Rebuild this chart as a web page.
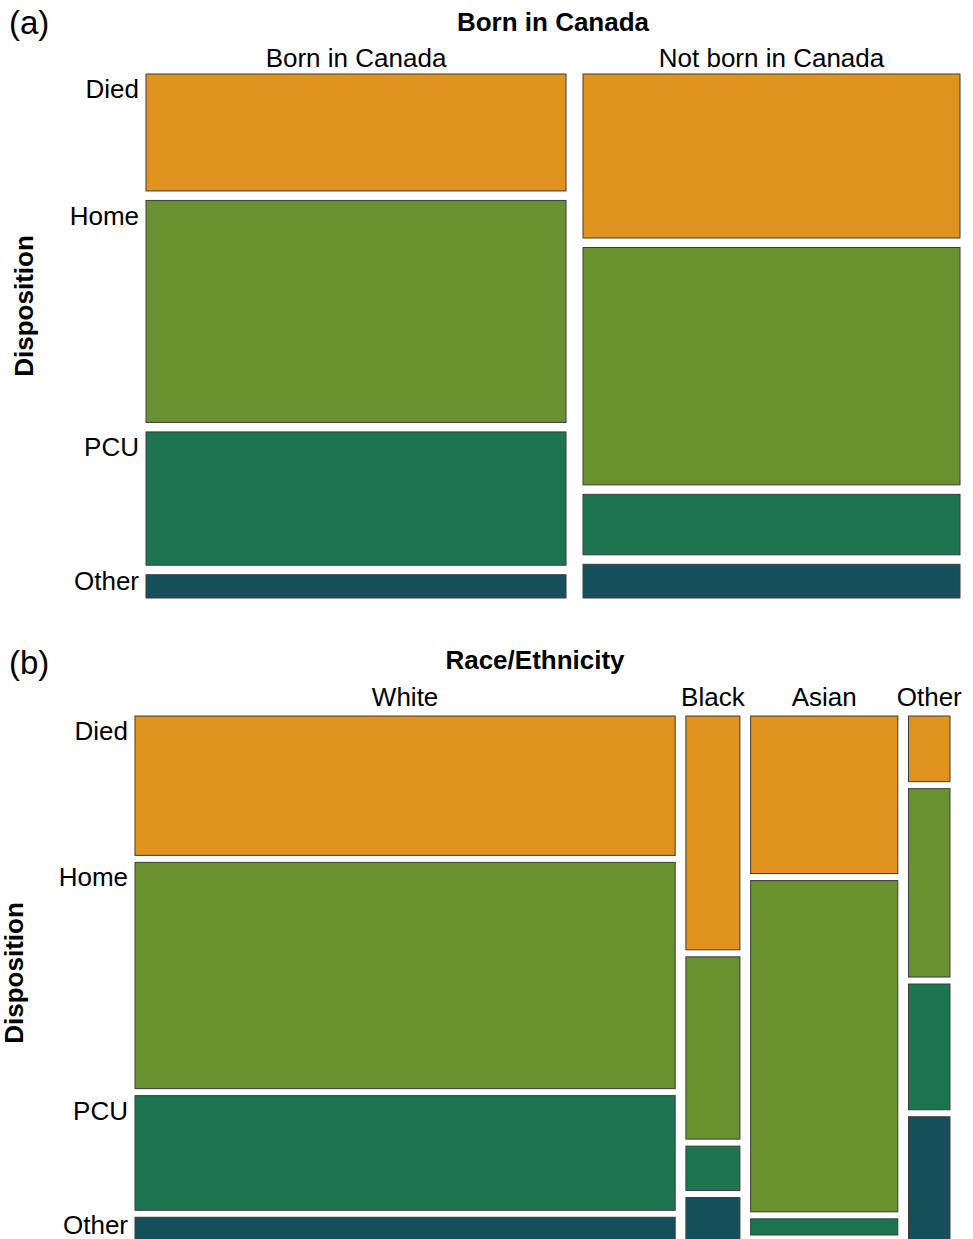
<!DOCTYPE html>
<html>
<head>
<meta charset="utf-8">
<script src="https://cdn.jsdelivr.net/npm/d3@7"></script>
<style>
  body { margin: 0; background: #fff; }
  text { font-family: "Liberation Sans", Arial, sans-serif; fill: #000; }
</style>
</head>
<body>
<div id="chart"></div>
<script>
// Plot constants
const WIDTH = 973;
const HEIGHT = 1239;

// Data: row categories shared by both panels
const dispositions = ["Died", "Home", "PCU", "Other"];
const dispColors = ["#e0941f", "#6a9130", "#1c7451", "#16505a"];

// Panel (a): birthplace
const birthGroups = ["Born in Canada", "Not born in Canada"];
const birthShares = [0.527, 0.473];
const bornInCanada = [0.236, 0.448, 0.269, 0.047];
const notBornInCanada = [0.331, 0.479, 0.122, 0.068];

// Panel (b): race/ethnicity
const raceGroups = ["White", "Black", "Asian", "Other"];
const raceShares = [0.69, 0.069, 0.188, 0.053];
const raceWhite = [0.276, 0.448, 0.227, 0.049];
const raceBlack = [0.463, 0.361, 0.088, 0.088];
const raceAsian = [0.312, 0.656, 0.032, 0.0];
const raceOther = [0.13, 0.373, 0.249, 0.248];

const svg = d3
  .select("#chart")
  .append("svg")
  .attr("width", WIDTH)
  .attr("height", HEIGHT);

function drawMosaic(opts) {
  const g = svg.append("g");
  const nCols = opts.groups.length;
  const nRows = dispositions.length;

  // x: cumulative share of each column, with gaps added between columns
  const x = d3
    .scaleLinear()
    .domain([0, 1])
    .range([opts.left, opts.right - opts.xGap * (nCols - 1)]);
  const y = d3
    .scaleLinear()
    .domain([0, 1])
    .range([opts.top, opts.bottom - opts.yGap * (nRows - 1)]);

  const xStart = d3.cumsum([0].concat(opts.shares));

  const tiles = [];
  opts.groups.forEach((grp, i) => {
    const yStart = d3.cumsum([0].concat(opts.values[i]));
    dispositions.forEach((disp, j) => {
      tiles.push({
        col: i,
        row: j,
        x0: x(xStart[i]) + opts.xGap * i,
        x1: x(xStart[i + 1]) + opts.xGap * i,
        y0: y(yStart[j]) + opts.yGap * j,
        y1: y(yStart[j + 1]) + opts.yGap * j,
      });
    });
  });

  g.selectAll("rect")
    .data(tiles)
    .enter()
    .append("rect")
    .attr("x", (d) => d.x0)
    .attr("y", (d) => d.y0)
    .attr("width", (d) => d.x1 - d.x0)
    .attr("height", (d) => Math.max(0, d.y1 - d.y0))
    .attr("fill", (d) => dispColors[d.row])
    .attr("stroke", "#3c3c3c")
    .attr("stroke-width", 1);

  // Column labels
  g.selectAll(".col-label")
    .data(opts.groups)
    .enter()
    .append("text")
    .attr("class", "col-label")
    .attr("x", (d, i) => (x(xStart[i]) + x(xStart[i + 1])) / 2 + opts.xGap * i)
    .attr("y", opts.colLabelY)
    .attr("font-size", "26px")
    .attr("text-anchor", "middle")
    .text((d) => d);

  // Row labels, next to the first column
  const firstCol = tiles.filter((d) => d.col === 0);
  g.selectAll(".row-label")
    .data(firstCol)
    .enter()
    .append("text")
    .attr("class", "row-label")
    .attr("x", opts.left - 7)
    .attr("y", (d) => d.y0 + Math.min(15, (d.y1 - d.y0) / 2 - 5))
    .attr("dy", "0.35em")
    .attr("font-size", "26px")
    .attr("text-anchor", "end")
    .text((d) => dispositions[d.row]);

  // Titles
  g.append("text")
    .attr("x", opts.titleX)
    .attr("y", opts.titleY)
    .attr("font-size", "26px")
    .attr("font-weight", "bold")
    .attr("text-anchor", "middle")
    .text(opts.title);

  g.append("text")
    .attr("transform", `translate(${opts.yLabelX},${opts.yLabelY}) rotate(-90)`)
    .attr("font-size", "26px")
    .attr("font-weight", "bold")
    .attr("text-anchor", "middle")
    .text("Disposition");

  g.append("text")
    .attr("x", 9)
    .attr("y", opts.tagY)
    .attr("font-size", "33px")
    .text(opts.tag);
}

drawMosaic({
  tag: "(a)",
  tagY: 34,
  title: "Born in Canada",
  titleX: 553,
  titleY: 31,
  colLabelY: 67,
  yLabelX: 33,
  yLabelY: 306,
  groups: birthGroups,
  shares: birthShares,
  values: [bornInCanada, notBornInCanada],
  left: 146,
  right: 960,
  top: 74,
  bottom: 598,
  xGap: 17,
  yGap: 9.5,
});

drawMosaic({
  tag: "(b)",
  tagY: 674,
  title: "Race/Ethnicity",
  titleX: 535,
  titleY: 669,
  colLabelY: 706,
  yLabelX: 23,
  yLabelY: 973,
  groups: raceGroups,
  shares: raceShares,
  values: [raceWhite, raceBlack, raceAsian, raceOther],
  left: 135,
  right: 950,
  top: 716,
  bottom: 1242,
  xGap: 10.7,
  yGap: 7,
});
</script>
</body>
</html>
